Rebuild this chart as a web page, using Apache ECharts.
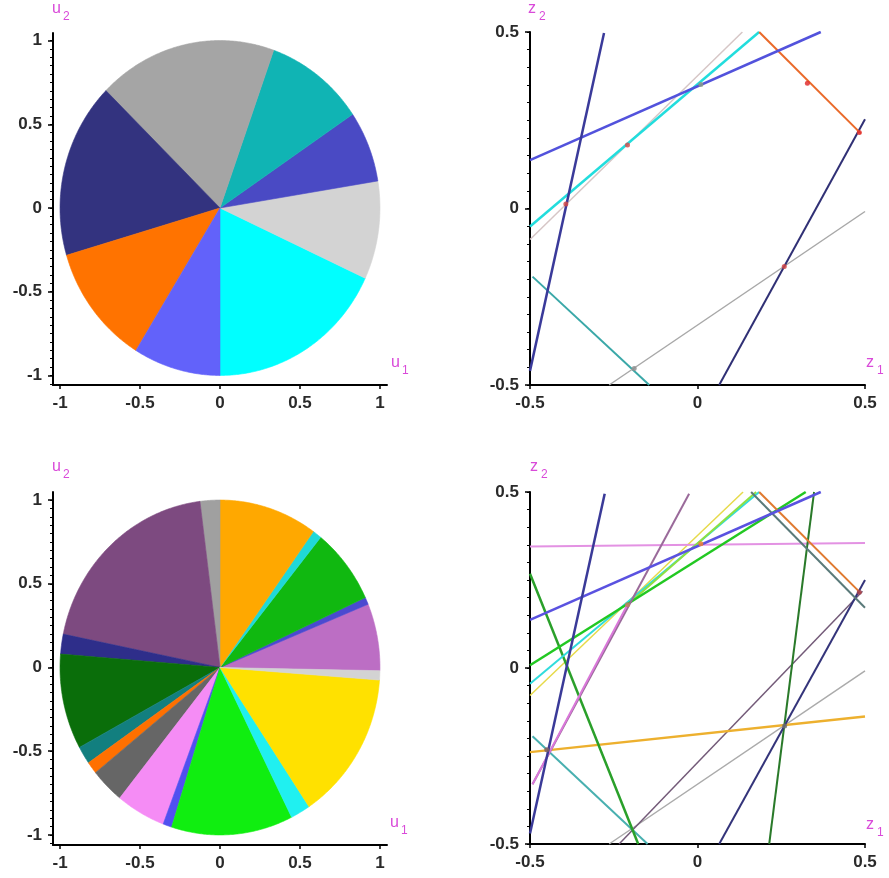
<!DOCTYPE html>
<html><head><meta charset="utf-8">
<script src="https://cdn.jsdelivr.net/npm/echarts@6/dist/echarts.min.js"></script>
<style>html,body{margin:0;padding:0;background:#fff;}#c{width:889px;height:878px;}</style>
</head><body><div id="c"></div>
<script>
// ---------------- data ----------------
const uTicks = [-1, -0.5, 0, 0.5, 1];
const zTicks = [-0.5, 0, 0.5];

// Top pie: slice angles (degrees), counter-clockwise from start angle
const pieTopStart = -90;
const pieTopAngles = [65.2, 34.1, 24.7, 36.4, 65.1, 60.9, 41.9, 31.7];
const pieTopColors = ['#00FFFF','#D3D3D3','#4A4AC4','#10B4B4','#A5A5A5','#33337F','#FF7300','#6262FA'];

// Bottom pie
const pieBotStart = -1.1;
const pieBotAngles = [23.3, 2.5, 26.3, 3.3, 35.7, 7.2, 71.3, 6.9, 33.1, 6.2, 4.2, 12.3, 18.0, 3.2, 44.2, 7.2, 51.9, 3.2];
const pieBotColors = ['#BC6EC4','#4A4AD0','#10B810','#20D8D8','#FFA800','#A0A0A0','#7D4A80','#2E2E8A','#0A6E0A','#127F7F','#FF7000','#666666','#F58CF5','#5050F0','#10EE10','#20F0F0','#FFE100','#D3D3D3'];

// Top-right lines (endpoints in z1,z2)
const topLines = [
  [[-0.4925,-0.193],[-0.144,-0.5]],
  [[-0.2637,-0.5],[0.5,-0.0085]],
  [[-0.5,-0.088],[0.134,0.5]],
  [[-0.5,-0.051],[0.184,0.5]],
  [[0.0647,-0.5],[0.5,0.253]],
  [[0.184,0.5],[0.488,0.212]],
  [[-0.5,0.137],[0.368,0.5]],
  [[-0.5,-0.46],[-0.279,0.497]]
];
const topLineColors = ['#3AA8A8','#A8A8A8','#D6C6C6','#22DDDD','#303075','#EA6A2A','#5252DC','#3A3A9A'];
const topLineWidths = [2, 1.5, 1.5, 2.5, 2, 2, 2.5, 2.5];
const topPoints = [[-0.393,0.013],[-0.209,0.18],[0.01,0.351],[0.328,0.355],[0.483,0.215],[0.259,-0.164],[-0.189,-0.453]];
const topPointColors = ['#D04848','#D05050','#8A9A8A','#E03030','#E03030','#D04848','#909090'];

// Bottom-right lines
const botLines = [
  [[-0.5,-0.078],[0.136,0.5]],
  [[-0.2637,-0.5],[0.5,-0.0085]],
  [[-0.234,-0.5],[0.4925,0.218]],
  [[-0.4925,-0.194],[-0.149,-0.5]],
  [[-0.5,0.345],[0.5,0.355]],
  [[-0.5,-0.239],[0.5,-0.138]],
  [[-0.5,0.268],[-0.177,-0.5]],
  [[0.214,-0.5],[0.348,0.5]],
  [[0.0648,-0.5],[0.5,0.25]],
  [[-0.5,-0.045],[0.184,0.5]],
  [[-0.209,0.18],[0.175,0.5]],
  [[-0.5,0.008],[0.323,0.5]],
  [[-0.4925,-0.33],[-0.025,0.495]],
  [[-0.4925,-0.33],[-0.209,0.18]],
  [[0.184,0.5],[0.488,0.212]],
  [[0.16,0.5],[0.5,0.171]],
  [[-0.5,0.137],[0.368,0.5]],
  [[-0.5,-0.47],[-0.277,0.495]]
];
const botLineColors = ['#E6DA4A','#ABABAB','#735A78','#48B0B0','#E392E3','#EDB02E','#2AA02A','#2A7A2A','#34347A','#30DCDC','#8EE040','#22C822','#9A6A9A','#DA78DA','#E07A30','#5A7A7A','#5A52E0','#3A3A98'];
const botLineWidths = [1.5, 1.5, 1.5, 2, 2, 2.5, 2.5, 2, 2, 2, 2, 2.5, 2, 2, 2, 2, 2.5, 2.5];
const botPoints = [[0.01,0.353],[-0.209,0.18],[0.483,0.215],[0.26,-0.165],[-0.45,-0.232]];
const botPointColors = ['#F08030','#C08060','#A04050','#707070','#806060'];

// ---------------- chart ----------------
const chart = echarts.init(document.getElementById('c'), null, {renderer:'canvas'});
const FONT = 'Liberation Sans';
const minorU = [], minorZ = [];
for (let k = -21; k <= 21; k++) { minorU.push(Math.round(k*5)/100); }
for (let k = -10; k <= 10; k++) { minorZ.push(Math.round(k*5)/100); }

const labelStyle = {fontSize:17, fontWeight:'bold', color:'#2a2a2a', fontFamily:FONT};
function xAx(gi, min, max, ticks) {
  return {type:'value', gridIndex:gi, min, max,
    axisLine:{show:true, onZero:false, lineStyle:{color:'#000', width:2}},
    axisTick:{show:true, length:4, customValues:ticks, lineStyle:{color:'#000', width:1.5}},
    axisLabel:Object.assign({show:true, customValues:ticks, margin:10, formatter:v=>String(v)}, labelStyle),
    splitLine:{show:false}};
}
function yAx(gi, min, max, ticks) {
  return {type:'value', gridIndex:gi, min, max, position:'left',
    axisLine:{show:true, onZero:false, lineStyle:{color:'#000', width:2}},
    axisTick:{show:true, length:5, customValues:ticks, lineStyle:{color:'#000', width:1.5}},
    axisLabel:Object.assign({show:true, customValues:ticks, margin:11, formatter:v=>String(v)}, labelStyle),
    splitLine:{show:false}};
}
function yMinor(gi, min, max, ticks) {
  return {type:'value', gridIndex:gi, min, max, position:'left', offset:0,
    axisLine:{show:false, onZero:false},
    axisTick:{show:true, length:3, customValues:ticks.filter(v=>v>=min && v<=max), lineStyle:{color:'#000', width:1}},
    axisLabel:{show:false}, splitLine:{show:false}};
}

function pieSeries(start, angles, colors, xi, yi) {
  let a = start;
  const data = angles.map((v, i) => { const it = {value:[0,0,a,a+v], itemStyle:{color:colors[i]}}; a += v; return it; });
  return {type:'custom', xAxisIndex:xi, yAxisIndex:yi, encode:{x:0, y:1}, data, clip:false, silent:true,
    renderItem(params, api) {
      const a0 = api.value(2)*Math.PI/180, a1 = api.value(3)*Math.PI/180;
      const pts = [api.coord([0,0])];
      const n = Math.max(2, Math.ceil((a1-a0)/(Math.PI/360)));
      for (let k = 0; k <= n; k++) { const t = a0 + (a1-a0)*k/n; pts.push(api.coord([Math.cos(t), Math.sin(t)])); }
      const c = api.visual('color');
      return {type:'polygon', shape:{points:pts}, style:{fill:c, stroke:c, lineWidth:0.6}};
    }};
}
function lineSeries(lines, colors, widths, xi, yi) {
  return lines.map((l, i) => ({type:'line', xAxisIndex:xi, yAxisIndex:yi, data:l, showSymbol:false, silent:true,
    lineStyle:{color:colors[i], width:widths[i]}, z:2}));
}
function pointSeries(pts, colors, xi, yi) {
  return {type:'scatter', xAxisIndex:xi, yAxisIndex:yi, symbolSize:5, silent:true, z:3,
    data: pts.map((p, i) => ({value:p, itemStyle:{color:colors[i], opacity:0.85}}))};
}

const magenta = '#D94AD9';
function axName(x, y, main, sub) {
  return [
    {type:'text', left:x, top:y, style:{text:main, fill:magenta, font:'16px ' + FONT}},
    {type:'text', left:x+11, top:y+10, style:{text:sub, fill:magenta, font:'12px ' + FONT}}
  ];
}

const option = {
  animation:false,
  backgroundColor:'#fff',
  grid:[
    {left:53, top:33, width:334, height:352},
    {left:530, top:32, width:335, height:353},
    {left:53, top:492, width:334, height:353},
    {left:530, top:492, width:335, height:352}
  ],
  xAxis:[
    xAx(0, -1.044, 1.044, uTicks),
    xAx(1, -0.5, 0.5, zTicks),
    xAx(2, -1.044, 1.044, uTicks),
    xAx(3, -0.5, 0.5, zTicks)
  ],
  yAxis:[
    yAx(0, -1.057, 1.045, uTicks),
    yAx(1, -0.5, 0.5, zTicks),
    yAx(2, -1.06, 1.048, uTicks),
    yAx(3, -0.5, 0.5, zTicks),
    yMinor(0, -1.057, 1.045, minorU),
    yMinor(1, -0.5, 0.5, minorZ),
    yMinor(2, -1.06, 1.048, minorU),
    yMinor(3, -0.5, 0.5, minorZ)
  ],
  graphic: [].concat(
    axName(52, 1, 'u', '2'), axName(391, 355, 'u', '1'),
    axName(528, 1, 'z', '2'), axName(866, 355, 'z', '1'),
    axName(52, 459, 'u', '2'), axName(390, 815, 'u', '1'),
    axName(530, 459, 'z', '2'), axName(866, 817, 'z', '1')
  ),
  series: [].concat(
    [pieSeries(pieTopStart, pieTopAngles, pieTopColors, 0, 0)],
    lineSeries(topLines, topLineColors, topLineWidths, 1, 1),
    [pointSeries(topPoints, topPointColors, 1, 1)],
    [pieSeries(pieBotStart, pieBotAngles, pieBotColors, 2, 2)],
    lineSeries(botLines, botLineColors, botLineWidths, 3, 3),
    [pointSeries(botPoints, botPointColors, 3, 3)]
  )
};
chart.setOption(option);
</script></body></html>
